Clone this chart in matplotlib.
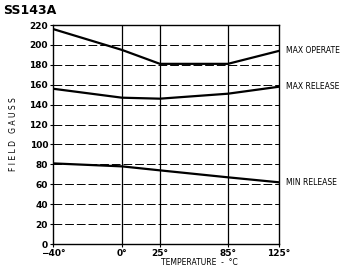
import matplotlib.pyplot as plt
import numpy as np

# data
temps = [-40, 0, 25, 85, 125]
max_operate = [216, 195, 181, 181, 194]
max_release = [156, 147, 146, 151, 158]
min_release = [81, 78, 74, 67, 62]
tick_labels = ['\u221240\u00b0', '0\u00b0', '25\u00b0', '85\u00b0', '125\u00b0']
yticks = list(range(0, 221, 20))

# the printed temperature axis is not linear: map it piecewise
axis_pos = [0, 69, 107, 175, 226]
fwd = lambda t: np.interp(t, temps, axis_pos)
inv = lambda p: np.interp(p, axis_pos, temps)

fig = plt.figure(figsize=(3.53, 2.75), dpi=100)
ax = fig.add_axes([0.150, 0.1127, 0.640, 0.7963])
ax.set_xscale('function', functions=(fwd, inv))

for ty in yticks[1:]:
    ax.axhline(ty, color='black', lw=0.7, ls=(0, (9, 3)), zorder=1)
for tx in temps[1:4]:
    ax.axvline(tx, color='black', lw=0.9, zorder=1)

ax.plot(temps, max_operate, color='black', lw=1.6, zorder=3)
ax.plot(temps, max_release, color='black', lw=1.6, zorder=3)
ax.plot(temps, min_release, color='black', lw=1.6, zorder=3)

ax.set_xlim(-40, 125)
ax.set_ylim(0, 220)
ax.set_xticks(temps)
ax.set_xticklabels(tick_labels, fontsize=6.5, fontweight='bold')
ax.set_yticks(yticks)
ax.set_yticklabels([str(v) for v in yticks], fontsize=6.5, fontweight='bold')
ax.tick_params(length=2, width=0.8, pad=1.5)
for s in ax.spines.values():
    s.set_linewidth(1.0)

ax.set_xlabel('TEMPERATURE  -  \u00b0C', fontsize=5.5, labelpad=1)
ax.xaxis.set_label_coords(0.65, -0.065)
ax.set_ylabel('F I E L D   G A U S S', fontsize=5.5, labelpad=8)

ax.text(1.03, max_operate[-1], 'MAX OPERATE', transform=ax.get_yaxis_transform(),
        fontsize=5.5, va='center', ha='left', clip_on=False)
ax.text(1.03, max_release[-1], 'MAX RELEASE', transform=ax.get_yaxis_transform(),
        fontsize=5.5, va='center', ha='left', clip_on=False)
ax.text(1.03, min_release[-1], 'MIN RELEASE', transform=ax.get_yaxis_transform(),
        fontsize=5.5, va='center', ha='left', clip_on=False)

fig.text(0.01, 0.963, 'SS143A', fontsize=9, fontweight='bold', va='center', ha='left')

plt.savefig('out.png', dpi=100)
